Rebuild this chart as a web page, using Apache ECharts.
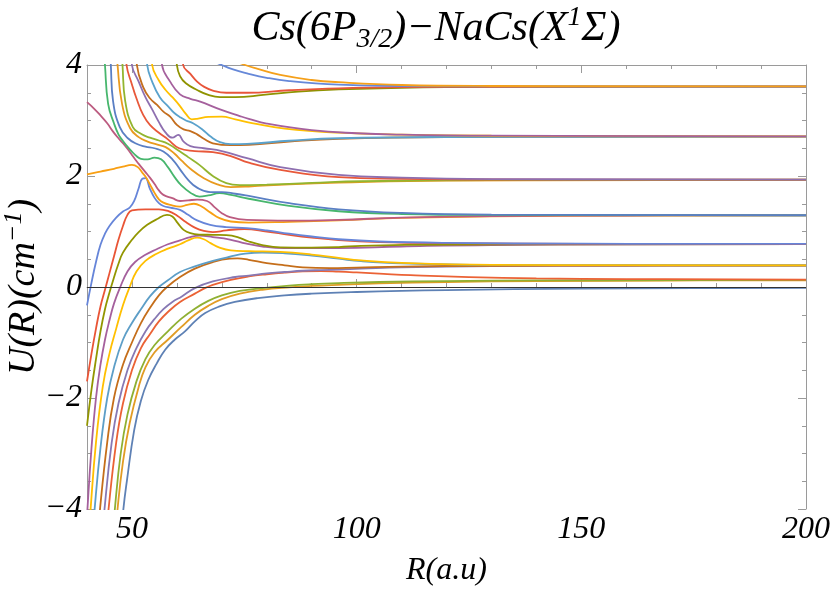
<!DOCTYPE html>
<html><head><meta charset="utf-8">
<script src="https://cdn.jsdelivr.net/npm/echarts@6/dist/echarts.min.js"></script>
<style>html,body{margin:0;padding:0;background:#fff}#c{width:830px;height:593px}</style>
</head><body><div id="c"></div>
<script>
// Adiabatic curves [R (a.u), U (cm^-1)], index 1 = lowest
const c01 = [[47.9,-4.3],[48.1,-4],[48.9,-3.48],[50.5,-2.58],[52,-2.05],[53.6,-1.68],[55.5,-1.38],[57.4,-1.13],[59.5,-0.95],[61.8,-0.8],[64,-0.62],[66.3,-0.47],[69.5,-0.35],[72.9,-0.27],[78,-0.2],[84,-0.15],[90,-0.12],[100,-0.09],[110,-0.07],[120,-0.055],[135,-0.04],[150,-0.03],[175,-0.02],[200,-0.014]];
const c02 = [[46.6,-4.3],[46.8,-4],[48,-3.15],[49.5,-2.45],[51.5,-1.8],[53,-1.45],[55,-1.18],[58,-0.95],[61,-0.72],[64,-0.5],[67,-0.34],[70,-0.22],[74,-0.12],[79,-0.05],[85,-0.005],[90,0.02],[96,0.04],[105,0.065],[120,0.09],[140,0.106],[170,0.117],[200,0.122]];
const c03 = [[46.0,-4.3],[46.2,-4],[47.5,-3.0],[49,-2.3],[51,-1.7],[53,-1.3],[55,-1.05],[58,-0.8],[61,-0.57],[64,-0.39],[67,-0.25],[70,-0.15],[74,-0.07],[79,-0.02],[85,0.025],[90,0.05],[96,0.07],[105,0.09],[120,0.107],[140,0.118],[170,0.124],[200,0.127]];
const c04 = [[44.6,-4.3],[44.8,-4],[46.5,-2.8],[48,-2.1],[50,-1.5],[52,-1.1],[54,-0.85],[56,-0.62],[58,-0.45],[60.7,-0.27],[64,-0.12],[66,-0.03],[68,0.04],[72,0.13],[76,0.19],[80,0.23],[84,0.26],[88,0.28],[92,0.287],[96,0.277],[100,0.262],[106,0.236],[112,0.213],[125,0.178],[140,0.156],[160,0.143],[200,0.134]];
const c05 = [[43.7,-4.3],[43.9,-4],[45.5,-2.8],[47,-2.1],[49,-1.5],[51,-1.1],[53,-0.8],[55,-0.58],[57,-0.4],[59,-0.27],[61.1,-0.17],[64,-0.02],[68,0.1],[73,0.18],[76,0.205],[80,0.245],[84,0.27],[88,0.293],[92,0.305],[96,0.315],[101,0.33],[110,0.355],[130,0.375],[160,0.383],[200,0.386]];
const c06 = [[42.7,-4.3],[42.9,-4],[44.5,-2.8],[46,-2.0],[48,-1.4],[50,-1.0],[52,-0.65],[54,-0.38],[56,-0.15],[57.8,0.0],[60.7,0.18],[64,0.33],[68,0.45],[71.8,0.51],[73.5,0.515],[76,0.49],[80,0.43],[84,0.39],[88,0.355],[94,0.34],[100,0.35],[110,0.368],[130,0.382],[200,0.387]];
const c07 = [[41.5,-4.3],[41.7,-4],[43,-2.9],[44.5,-2.0],[46,-1.45],[48,-0.95],[50,-0.65],[52,-0.4],[54,-0.17],[56,0.0],[58,0.12],[60.7,0.27],[64,0.37],[68,0.47],[71.8,0.545],[75.2,0.6],[79,0.622],[84,0.607],[90,0.565],[96,0.51],[101,0.465],[110,0.425],[130,0.397],[200,0.388]];
const c08 = [[40.6,-4.3],[40.8,-4],[42,-2.8],[43.5,-1.8],[45,-1.2],[46.5,-0.75],[48,-0.33],[49.5,0],[51,0.28],[53,0.47],[55.5,0.6],[58,0.69],[60.7,0.77],[62.5,0.84],[64.5,0.89],[66,0.86],[67.5,0.79],[69.5,0.71],[72,0.66],[76,0.645],[83,0.632],[90,0.585],[96,0.525],[101,0.48],[110,0.435],[130,0.4],[200,0.389]];
const c09 = [[39.95,-4.3],[40.1,-4],[41,-2.9],[42,-2.0],[43,-1.4],[44,-0.95],[45,-0.6],[46,-0.3],[47.4,0],[49,0.28],[50.7,0.45],[53,0.58],[55.5,0.68],[58,0.77],[60.7,0.84],[63,0.9],[65,0.925],[68,0.9],[71.8,0.855],[75.5,0.78],[79.4,0.725],[84,0.7],[96,0.7],[110,0.73],[130,0.757],[200,0.772]];
const c10 = [[40,-2.5],[41,-1.85],[42,-1.3],[43,-0.8],[44,-0.4],[45,-0.1],[46,0.17],[47,0.42],[48,0.62],[50,0.85],[51.5,0.99],[53.4,1.12],[55.5,1.22],[57.8,1.3],[59,1.27],[60.2,1.15],[61.5,1.03],[63,0.97],[65,0.945],[68,0.94],[71,0.935],[73.5,0.9],[76,0.82],[79,0.755],[83,0.715],[90,0.71],[96,0.72],[101,0.742],[120,0.762],[200,0.773]];
const c11 = [[40,-1.7],[41,-1.2],[42,-0.75],[43,-0.35],[44,-0.05],[45,0.25],[46,0.55],[47,0.85],[48,1.1],[49,1.3],[50,1.38],[53,1.4],[56,1.4],[58,1.37],[60,1.29],[62,1.17],[64,1.07],[66,1.01],[68,0.99],[71,1.02],[75,1.045],[80,1.0],[85,0.94],[90,0.89],[96,0.845],[105,0.81],[120,0.79],[150,0.778],[200,0.775]];
const c12 = [[40,-0.33],[41,0.08],[42,0.45],[43,0.76],[44,0.96],[45,1.1],[46.5,1.25],[48,1.36],[49.5,1.43],[50.5,1.55],[51.5,1.78],[52.3,1.95],[53,1.96],[54,1.77],[55,1.61],[56,1.51],[57,1.46],[58.5,1.43],[60.7,1.39],[62.5,1.3],[64.5,1.2],[67.4,1.12],[71,1.08],[75.6,1.06],[80,1.02],[85,0.96],[90,0.91],[96,0.86],[105,0.82],[120,0.795],[150,0.78],[200,0.776]];
const c13 = [[40,2.03],[43,2.08],[46,2.13],[48,2.17],[50,2.2],[51.3,2.16],[52.3,2.06],[53,1.99],[54,1.85],[55,1.7],[56,1.58],[57,1.52],[58.5,1.48],[60.7,1.45],[62.3,1.48],[63.8,1.5],[65.5,1.45],[67.5,1.34],[69.5,1.24],[72,1.18],[76,1.16],[85,1.175],[96,1.2],[110,1.245],[130,1.275],[160,1.287],[200,1.291]];
const c14 = [[40,3.33],[41.5,3.22],[42.9,3.1],[44.5,2.95],[45.8,2.8],[47,2.68],[48,2.59],[49,2.49],[50,2.38],[51,2.27],[52,2.17],[53,2.07],[54,1.97],[55,1.86],[56,1.74],[57,1.66],[59,1.6],[60.7,1.55],[62.5,1.56],[64.5,1.575],[66.7,1.55],[68.5,1.43],[70,1.33],[71.8,1.26],[75.6,1.21],[85,1.195],[96,1.21],[110,1.25],[130,1.278],[160,1.288],[200,1.292]];
const c15 = [[43.8,4.3],[44,4],[44.7,3.3],[46,2.95],[47,2.75],[48,2.63],[49,2.53],[50,2.44],[51,2.36],[52,2.31],[53.5,2.3],[55,2.33],[56.5,2.3],[58,2.16],[59.5,1.98],[61,1.83],[63,1.7],[65,1.63],[67,1.65],[69.5,1.69],[72,1.66],[76,1.59],[85,1.46],[96,1.365],[110,1.315],[130,1.298],[200,1.292]];
const c16 = [[45.1,4.3],[45.3,4],[45.8,3.35],[47.3,2.88],[49.1,2.68],[51,2.58],[53,2.53],[55,2.5],[57,2.44],[59,2.3],[60.7,2.12],[62.5,1.93],[64.5,1.79],[67.4,1.71],[70,1.71],[73,1.68],[76,1.64],[85,1.51],[96,1.4],[110,1.335],[130,1.305],[200,1.293]];
const c17 = [[46.6,4.3],[46.8,4],[47.8,3.3],[49.6,2.86],[51.5,2.7],[53.5,2.62],[55.5,2.57],[57.5,2.52],[59.5,2.4],[61,2.28],[63,2.13],[66,1.96],[69,1.85],[72,1.8],[76,1.81],[85,1.85],[96,1.88],[120,1.915],[200,1.93]];
const c18 = [[47.7,4.3],[47.9,4],[48.5,3.35],[50.2,2.88],[52,2.76],[54,2.69],[56,2.64],[58,2.58],[60.7,2.44],[62.5,2.34],[65,2.2],[68,2.0],[71,1.87],[74,1.835],[80,1.845],[90,1.875],[101,1.905],[130,1.925],[200,1.932]];
const c19 = [[48.6,4.3],[48.8,4],[50,3.65],[51,3.4],[52.5,3.1],[54,2.92],[56,2.78],[58,2.66],[60.5,2.5],[64,2.45],[68,2.43],[72,2.36],[76,2.24],[83,2.11],[96,1.98],[110,1.95],[130,1.937],[200,1.934]];
const c20 = [[49.8,4.3],[50,4],[51.5,3.7],[53,3.42],[54.5,3.2],[56,2.97],[57.5,2.78],[59,2.69],[60.3,2.74],[61.5,2.62],[63,2.54],[66,2.5],[70,2.45],[75.6,2.32],[83,2.16],[96,2.02],[110,1.97],[130,1.945],[200,1.935]];
const c21 = [[50.9,4.3],[51.1,4],[52.5,3.6],[54,3.4],[55.6,3.28],[57,3.16],[58.5,3.07],[60,2.92],[61.5,2.84],[63,2.81],[64.5,2.75],[66,2.67],[68,2.59],[72,2.555],[76,2.56],[85,2.62],[96,2.67],[120,2.7],[200,2.71]];
const c22 = [[53.2,4.3],[53.4,4],[54.5,3.7],[56.2,3.42],[58,3.26],[59.5,3.13],[60.7,3.06],[62,3.0],[63.6,2.95],[65.8,2.83],[67.5,2.71],[69.6,2.61],[72,2.575],[75.6,2.58],[85,2.635],[96,2.68],[120,2.703],[200,2.71]];
const c23 = [[54.3,4.3],[54.5,4],[56,3.72],[57.5,3.55],[59,3.42],[60.7,3.26],[62,3.12],[63.3,3.02],[64.5,3.03],[67,3.065],[70,3.07],[73,3.02],[77,2.95],[84,2.855],[96,2.78],[110,2.745],[130,2.725],[200,2.713]];
const c24 = [[56.5,4.3],[56.7,4],[58.5,3.7],[60.7,3.47],[63,3.39],[65.2,3.34],[69.6,3.2],[74,3.08],[76,3.03],[80,2.945],[90,2.825],[100,2.77],[110,2.745],[130,2.726],[200,2.714]];
const c25 = [[59.8,4.3],[60,4],[60.7,3.8],[62,3.67],[64.5,3.55],[67,3.46],[69.6,3.42],[73,3.42],[79.2,3.46],[87,3.52],[96,3.56],[110,3.59],[130,3.605],[200,3.612]];
const c26 = [[61.2,4.3],[61.4,4],[63,3.84],[64.5,3.7],[66,3.61],[68,3.54],[71,3.5],[75.6,3.5],[85,3.545],[96,3.58],[110,3.6],[130,3.608],[200,3.613]];
const c27 = [[63,4.3],[66.5,4.13],[70,4.0],[72.5,3.92],[75.6,3.85],[80,3.77],[85,3.71],[96,3.645],[110,3.622],[130,3.614],[200,3.613]];
const c28 = [[68.5,4.3],[72,4.11],[75.2,4.0],[78,3.93],[83,3.82],[90,3.73],[96,3.69],[110,3.64],[130,3.622],[200,3.614]];

const curves = [c01,c02,c03,c04,c05,c06,c07,c08,c09,c10,c11,c12,c13,c14,c15,c16,c17,c18,c19,c20,c21,c22,c23,c24,c25,c26,c27,c28];
const colors = ['#5E81B5','#E19C24','#8FB032','#EB6235','#8778B3','#C56E1A','#5D9EC7','#FFBF00','#A5609D','#929600',
  '#E95536','#6685D9','#F89F13','#BC5B80','#47B66D','#5A7FC4','#E89A1E','#92B52F','#E8583A','#8E6FB0',
  '#C46E1E','#5AA2CC','#FFC000','#A5609D','#8F9300','#E8553A','#6688D8','#F5A01A'];
const xMajor = [50,100,150,200];
const xRange = [40,200];
const yRange = [-4,4];

const FONT = '"Liberation Serif","Times New Roman",serif';
const FRAME = '#9a9a9a';
const chart = echarts.init(document.getElementById('c'), null, {renderer:'canvas'});

const series = curves.map((d,i)=>({
  type:'line', data:d, showSymbol:false, symbol:'none', smooth:0.45,
  lineStyle:{color:colors[i], width:1.8}, itemStyle:{color:colors[i]},
  xAxisIndex:0, yAxisIndex:0, clip:true, animation:false, z:3
}));
series[0].markLine = {silent:true, symbol:['none','none'], animation:false,
  label:{show:false}, lineStyle:{color:'#333', width:1, type:'solid'}, data:[{yAxis:0}]};

const baseX = (pos)=>({type:'value', position:pos, min:xRange[0], max:xRange[1], splitLine:{show:false}});
const baseY = (pos)=>({type:'value', position:pos, min:yRange[0], max:yRange[1], interval:2, splitLine:{show:false}});
const numFmt = v => v < 0 ? '\u2212' + Math.abs(v) : String(v);

const option = {
  backgroundColor:'#fff',
  animation:false,
  grid:{left:87, right:24, top:65, bottom:84, containLabel:false, outerBoundsMode:'none'},
  xAxis:[
    Object.assign(baseX('bottom'), {interval:10, axisLine:{show:true, lineStyle:{color:FRAME}},
      axisTick:{show:true, inside:true, length:4, lineStyle:{color:FRAME}}, axisLabel:{show:false}}),
    Object.assign(baseX('bottom'), {axisLine:{show:false},
      axisTick:{show:true, inside:true, length:8, customValues:xMajor, lineStyle:{color:FRAME}},
      axisLabel:{show:true, customValues:xMajor, fontFamily:FONT, fontStyle:'italic', fontSize:32, color:'#000', margin:5},
      name:'R(a.u)', nameLocation:'middle', nameGap:46, nameMoveOverlap:false,
      nameTextStyle:{fontFamily:FONT, fontStyle:'italic', fontSize:32, color:'#000', verticalAlign:'top'}}),
    Object.assign(baseX('top'), {interval:10, axisLine:{show:true, lineStyle:{color:FRAME}},
      axisTick:{show:true, inside:true, length:4, lineStyle:{color:FRAME}}, axisLabel:{show:false}}),
    Object.assign(baseX('top'), {axisLine:{show:false},
      axisTick:{show:true, inside:true, length:8, customValues:xMajor, lineStyle:{color:FRAME}}, axisLabel:{show:false}})
  ],
  yAxis:[
    Object.assign(baseY('left'), {axisLine:{show:true, lineStyle:{color:FRAME}},
      axisTick:{show:true, inside:true, length:8, lineStyle:{color:FRAME}},
      minorTick:{show:true, splitNumber:4, length:4, lineStyle:{color:FRAME}},
      axisLabel:{show:true, formatter:numFmt, fontFamily:FONT, fontStyle:'italic', fontSize:32, color:'#000', margin:5},
      name:'{a|U(R)(cm}{s|\u22121}{a|)}', nameLocation:'middle', nameGap:44, nameRotate:90, nameMoveOverlap:false,
      nameTextStyle:{rich:{
        a:{fontFamily:FONT, fontStyle:'italic', fontSize:38, color:'#000', lineHeight:42, verticalAlign:'bottom'},
        s:{fontFamily:FONT, fontStyle:'italic', fontSize:26, color:'#000', lineHeight:26, verticalAlign:'top'}}}}),
    Object.assign(baseY('right'), {axisLine:{show:true, lineStyle:{color:FRAME}},
      axisTick:{show:true, inside:true, length:8, lineStyle:{color:FRAME}},
      minorTick:{show:true, splitNumber:4, length:4, lineStyle:{color:FRAME}},
      axisLabel:{show:false}})
  ],
  graphic:[{
    type:'text', x:436, y:4, z:10,
    style:{
      text:'{a|Cs(6P}{b|3/2}{a|)\u2212NaCs(X}{c|1}{a|\u03A3)}',
      align:'center', textAlign:'center', verticalAlign:'top', textVerticalAlign:'top',
      rich:{
        a:{fontFamily:FONT, fontStyle:'italic', fontSize:42, fill:'#000', color:'#000', lineHeight:50, verticalAlign:'middle'},
        b:{fontFamily:FONT, fontStyle:'italic', fontSize:28, fill:'#000', color:'#000', lineHeight:28, verticalAlign:'bottom'},
        c:{fontFamily:FONT, fontStyle:'italic', fontSize:28, fill:'#000', color:'#000', lineHeight:28, verticalAlign:'top'}
      }
    }
  }],
  series:series
};
chart.setOption(option);
</script></body></html>
